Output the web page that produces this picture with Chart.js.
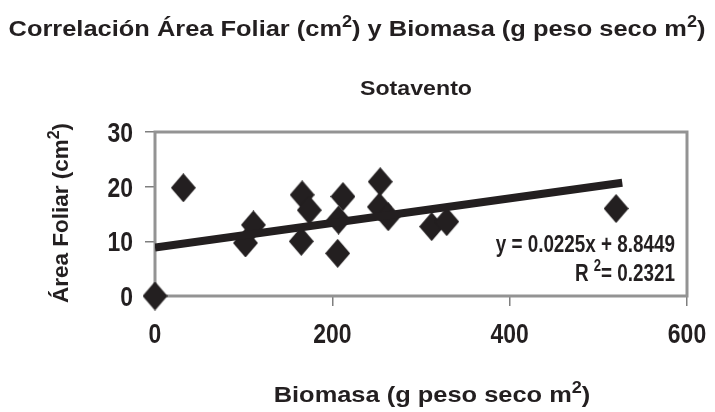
<!DOCTYPE html>
<html>
<head>
<meta charset="utf-8">
<script src="https://cdn.jsdelivr.net/npm/chart.js@4/dist/chart.umd.min.js"></script>
<style>
  html, body { margin: 0; padding: 0; background: #fff; }
  #wrap { width: 715px; height: 412px; }
</style>
</head>
<body>
<div id="wrap"><canvas id="chart" width="715" height="412"></canvas></div>
<script>
// Sotavento: biomasa (g peso seco m2) vs área foliar (cm2)
const biomasa    = [0, 32, 102, 111, 166, 165, 174, 212, 207, 206, 254, 253, 263, 312, 329, 520];
const areaFoliar = [0, 19.8, 9.7, 13.0, 18.5, 10.0, 15.7, 18.2, 13.9, 7.8, 20.9, 16.3, 14.5, 12.7, 13.6, 16.0];

// linear trend as printed on the chart
const pendiente = 0.0225;
const intercepto = 8.8449;
const r2 = 0.2321;
const trendX = [0, 527];

const xTicks = [0, 200, 400, 600];
const yTicks = [0, 10, 20, 30];

const INK = '#231f20';
const FONT = '"Liberation Sans", Arial, sans-serif';
const WIDE = 1.13;   // horizontal titles run a little wide

// diamond marker, a bit taller than wide
function makeDiamond(w, h) {
  const c = document.createElement('canvas');
  c.width = w; c.height = h;
  const g = c.getContext('2d');
  g.fillStyle = INK;
  g.beginPath();
  g.moveTo(w / 2, 0);
  g.lineTo(w, h / 2);
  g.lineTo(w / 2, h);
  g.lineTo(0, h / 2);
  g.closePath();
  g.fill();
  return c;
}

// bold text with raised "2" pieces; sx stretches it horizontally
function drawRich(ctx, parts, x, y, size, align, sx) {
  sx = sx || 1;
  const fontOf = (p) => `bold ${p.sup ? Math.round(size * 0.7) : size}px ${FONT}`;
  let total = 0;
  parts.forEach((p) => { ctx.font = fontOf(p); total += ctx.measureText(p.t).width; });
  ctx.save();
  ctx.translate(x, y);
  ctx.scale(sx, 1);
  let cx = align === 'right' ? -total : align === 'center' ? -total / 2 : 0;
  ctx.textAlign = 'left';
  ctx.textBaseline = 'alphabetic';
  parts.forEach((p) => {
    ctx.font = fontOf(p);
    ctx.fillText(p.t, cx, p.sup ? -size * 0.42 : 0);
    cx += ctx.measureText(p.t).width;
  });
  ctx.restore();
}

const frameAndText = {
  id: 'frameAndText',
  beforeDatasetsDraw(chart) {
    const { ctx, chartArea: a } = chart;
    ctx.save();
    ctx.strokeStyle = '#939393';
    ctx.lineWidth = 3;
    ctx.strokeRect(a.left, a.top, a.right - a.left, a.bottom - a.top);
    ctx.restore();
  },
  afterDraw(chart) {
    const { ctx, chartArea: a, scales } = chart;
    ctx.save();
    ctx.fillStyle = INK;

    // tick labels, narrow bold, placed on the chart's own scales
    scales.x.ticks.forEach((t) => {
      drawRich(ctx, [{ t: String(t.value) }], scales.x.getPixelForValue(t.value), 343, 27, 'center', 0.85);
    });
    scales.y.ticks.forEach((t) => {
      drawRich(ctx, [{ t: String(t.value) }], a.left - 22, scales.y.getPixelForValue(t.value) + 10, 27, 'right', 0.85);
    });

    drawRich(ctx, [
      { t: 'Correlación Área Foliar (cm' }, { t: '2', sup: true },
      { t: ') y Biomasa (g peso seco m' }, { t: '2', sup: true }, { t: ')' }
    ], 357, 36, 22.5, 'center', WIDE);

    drawRich(ctx, [{ t: 'Sotavento' }], 416, 95, 20.5, 'center', WIDE);

    drawRich(ctx, [
      { t: 'Biomasa (g peso seco m' }, { t: '2', sup: true }, { t: ')' }
    ], 432, 402, 22.5, 'center', WIDE);

    ctx.save();
    ctx.translate(68, 213);
    ctx.rotate(-Math.PI / 2);
    drawRich(ctx, [
      { t: 'Área Foliar (cm' }, { t: '2', sup: true }, { t: ')' }
    ], 0, 0, 22.5, 'center');
    ctx.restore();

    // trend equation
    drawRich(ctx, [{ t: `y = ${pendiente}x + ${intercepto}` }], a.right - 12, 252, 23, 'right', 0.82);
    drawRich(ctx, [
      { t: 'R ' }, { t: '2', sup: true }, { t: '= ' + r2 }
    ], a.right - 12, 281, 23, 'right', 0.82);

    ctx.restore();
  }
};

const puntos = biomasa.map((x, i) => ({ x, y: areaFoliar[i] }));
const tendencia = trendX.map((x) => ({ x, y: pendiente * x + intercepto }));

new Chart(document.getElementById('chart'), {
  type: 'scatter',
  data: {
    datasets: [
      {
        label: 'Sotavento',
        data: puntos,
        pointStyle: makeDiamond(25, 29),
        backgroundColor: INK,
        borderColor: INK,
        clip: false,
        order: 2
      },
      {
        label: 'Lineal',
        data: tendencia,
        showLine: true,
        borderColor: INK,
        borderWidth: 8,
        borderCapStyle: 'butt',
        pointRadius: 0,
        order: 1
      }
    ]
  },
  plugins: [frameAndText],
  options: {
    responsive: false,
    animation: false,
    events: [],
    layout: { padding: { top: 132, right: 28, bottom: 0, left: 0 } },
    plugins: { legend: { display: false }, tooltip: { enabled: false } },
    scales: {
      x: {
        type: 'linear',
        min: 0,
        max: 600,
        afterBuildTicks: (s) => { s.ticks = xTicks.map((v) => ({ value: v })); },
        afterFit: (s) => { s.height = 116; },
        ticks: { display: false },
        grid: { drawOnChartArea: false, tickLength: 10, color: '#7f7f7f', lineWidth: 1.5 },
        border: { display: false }
      },
      y: {
        min: 0,
        max: 30,
        afterBuildTicks: (s) => { s.ticks = yTicks.map((v) => ({ value: v })); },
        afterFit: (s) => { s.width = 155; },
        ticks: { display: false },
        grid: { drawOnChartArea: false, tickLength: 10, color: '#7f7f7f', lineWidth: 1.5 },
        border: { display: false }
      }
    }
  }
});
</script>
</body>
</html>
